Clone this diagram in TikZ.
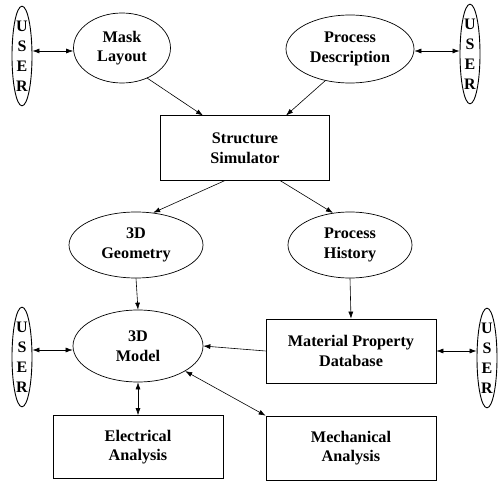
\documentclass[tikz,border=0pt]{standalone}
\usepackage{fontspec}
\setmainfont{Liberation Serif}
\usetikzlibrary{shapes.geometric,arrows.meta}
\begin{document}
\begin{tikzpicture}[x=1pt,y=-1pt,
  every node/.style={font=\fontsize{16.2}{19.5}\selectfont\bfseries, align=center, inner sep=0pt},
  oval/.style={draw, ellipse, line width=0.7pt},
  userov/.style={draw, ellipse, line width=0.9pt, minimum width=20pt, minimum height=93pt, font=\fontsize{16}{20}\selectfont\bfseries},
  box/.style={draw, rectangle, line width=0.7pt},
  conn/.style={line width=0.6pt, -{Latex[length=7pt,width=5pt]}},
  dconn/.style={line width=0.6pt, {Latex[length=7pt,width=5pt]}-{Latex[length=7pt,width=5pt]}}
]
\useasboundingbox (0,0) rectangle (498,481);
% USER nodes
\node[userov] (u1) at (22,56) {U\\S\\E\\R};
\node[userov] (u2) at (470,54) {U\\S\\E\\R};
\node[userov] (u3) at (22,357) {U\\S\\E\\R};
\node[userov] (u4) at (487,358) {U\\S\\E\\R};
% ovals
\node[oval, minimum width=97pt, minimum height=70pt] (mask) at (122,48) {Mask\\Layout};
\node[oval, minimum width=128pt, minimum height=68pt] (proc) at (350,49) {Process\\Description};
\node[oval, minimum width=134pt, minimum height=66pt] (geom) at (136,245) {3D\\Geometry};
\node[oval, minimum width=124pt, minimum height=66pt] (hist) at (350,245) {Process\\History};
\node[oval, minimum width=130pt, minimum height=72pt] (model) at (138,346) {3D\\Model};
% boxes
\node[box, minimum width=169pt, minimum height=65pt] (sim) at (245,148) {Structure\\Simulator};
\node[box, minimum width=170pt, minimum height=64pt] (mat) at (351,351) {Material Property\\Database};
\node[box, minimum width=170pt, minimum height=63pt] (elec) at (138,447) {Electrical\\Analysis};
\node[box, minimum width=170pt, minimum height=64pt] (mech) at (351,448) {Mechanical\\Analysis};
% connector end points on the simulator box
\coordinate (simtl) at (203,115.5);
\coordinate (simtr) at (286,115.5);
\coordinate (simbl) at (225,180.5);
\coordinate (simbr) at (280,180.5);
% connectors
\draw[dconn] (u1.east |- 0,51) -- (mask.west |- 0,51);
\draw[dconn] (proc.east |- 0,51) -- (u2.west |- 0,51);
\draw[conn] (mask.-50) -- (simtl);
\draw[conn] (proc.-128) -- (simtr);
\draw[conn] (simbl) -- (geom.62);
\draw[conn] (simbr) -- (hist.118);
\draw[conn] (geom.south) -- (model.north);
\draw[conn] (hist.south) -- (mat.north);
\draw[conn] (mat.west) -- (model.east);
\draw[dconn] (u3.east |- 0,350) -- (model.west |- 0,350);
\draw[dconn] (mat.east) -- (u4.west |- mat.east);
\draw[dconn] (model.south) -- (elec.north);
\draw[dconn] (model.-28) -- (mech.north west);
\end{tikzpicture}
\end{document}
